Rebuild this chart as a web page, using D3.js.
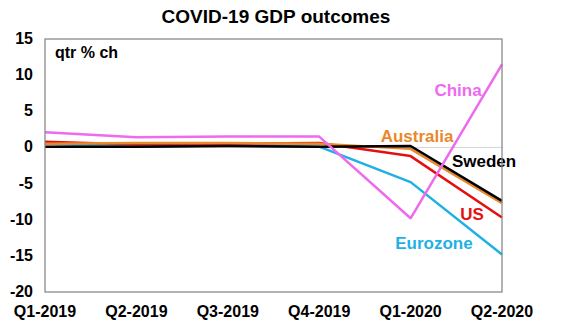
<!DOCTYPE html>
<html lang="en">
<head>
<meta charset="UTF-8">
<script src="https://d3js.org/d3.v7.min.js"></script>
<title>COVID-19 GDP outcomes</title>
<style>
  body { margin: 0; background: #fff; }
  text { font-family: "Liberation Sans", Arial, sans-serif; font-weight: bold; }
</style>
</head>
<body>
<div id="chart"></div>
<script>
// quarters on the x axis
var quarters = ["Q1-2019", "Q2-2019", "Q3-2019", "Q4-2019", "Q1-2020", "Q2-2020"];
var yTicks = [15, 10, 5, 0, -5, -10, -15, -20];

// qtr % ch
var eurozone  = [0.5, 0.1, 0.3, 0.1, -4.8, -14.8];
var us        = [0.8, 0.4, 0.5, 0.6, -1.2, -9.7];
var australia = [0.5, 0.6, 0.6, 0.5, -0.2, -7.7];
var sweden    = [0.1, 0.1, 0.2, 0.1, 0.2, -7.4];
var china     = [2.1, 1.4, 1.5, 1.5, -9.8, 11.5];

var series = [
  {name: "Eurozone",  values: eurozone,  color: "#1fb0e4", lx: 434, ly: 243},
  {name: "US",        values: us,        color: "#e41010", lx: 472, ly: 214},
  {name: "Australia", values: australia, color: "#e8892c", lx: 417, ly: 136},
  {name: "Sweden",    values: sweden,    color: "#000000", lx: 484, ly: 161},
  {name: "China",     values: china,     color: "#ee6aee", lx: 458, ly: 90}
];

var W = 571, H = 325;
var svg = d3.select("#chart").append("svg").attr("width", W).attr("height", H);

var x = d3.scalePoint().domain(quarters).range([45, 502]);
var y = d3.scaleLinear().domain([-20, 15]).range([292, 39]);

svg.append("text")
  .attr("x", 276).attr("y", 23)
  .attr("text-anchor", "middle")
  .style("font-size", "19px")
  .text("COVID-19 GDP outcomes");

// zero line
svg.append("line")
  .attr("x1", x.range()[0]).attr("x2", x.range()[1])
  .attr("y1", y(0)).attr("y2", y(0))
  .attr("stroke", "#d4d4d4").attr("stroke-width", 1);

// y labels
svg.selectAll(".ylab").data(yTicks).enter().append("text")
  .attr("class", "ylab")
  .attr("x", 33).attr("y", d => y(d) + 5)
  .attr("text-anchor", "end")
  .style("font-size", "16px")
  .text(d => d);

// x labels
svg.selectAll(".xlab").data(quarters).enter().append("text")
  .attr("class", "xlab")
  .attr("x", d => x(d)).attr("y", 317)
  .attr("text-anchor", "middle")
  .style("font-size", "16px")
  .text(d => d);

svg.append("text")
  .attr("x", 55).attr("y", 58)
  .style("font-size", "16px")
  .text("qtr % ch");

var line = d3.line()
  .x((d, i) => x(quarters[i]))
  .y(d => y(d));

svg.selectAll(".series").data(series).enter().append("path")
  .attr("class", "series")
  .attr("d", d => line(d.values))
  .attr("fill", "none")
  .attr("stroke", d => d.color)
  .attr("stroke-width", 2.5)
  .attr("stroke-linejoin", "round");

svg.selectAll(".lab").data(series).enter().append("text")
  .attr("class", "lab")
  .attr("x", d => d.lx).attr("y", d => d.ly + 6)
  .attr("text-anchor", "middle")
  .attr("fill", d => d.color)
  .style("font-size", "17px")
  .text(d => d.name);

// plot frame
svg.append("rect")
  .attr("x", x.range()[0]).attr("y", y(15))
  .attr("width", x.range()[1] - x.range()[0])
  .attr("height", y(-20) - y(15))
  .attr("fill", "none")
  .attr("stroke", "#808080").attr("stroke-width", 1.2);
</script>
</body>
</html>
